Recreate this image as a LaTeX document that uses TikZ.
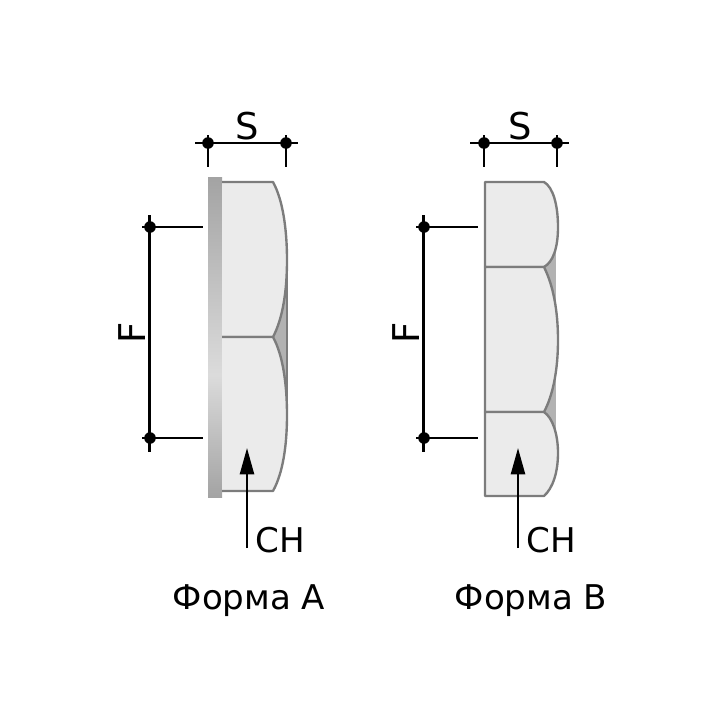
\documentclass[tikz,border=0pt]{standalone}
\usepackage{fontspec}
\setmainfont{DejaVu Sans}
\usetikzlibrary{arrows.meta}
\definecolor{nutfill}{HTML}{EBEBEB}
\definecolor{nutline}{HTML}{7C7C7C}
\definecolor{nutback}{HTML}{B2B2B2}
\tikzset{
  nutface/.style={draw=nutline,fill=nutfill,line width=1.35pt,line join=round},
  dimline/.style={draw=black,line width=1.3pt},
  dimdot/.style={circle,fill=black,inner sep=0pt,minimum size=6.6pt},
  label/.style={font=\fontsize{19.4}{21}\selectfont,inner sep=0pt},
  biglabel/.style={font=\fontsize{21}{23}\selectfont,inner sep=0pt},
  pointer/.style={dimline,-{Triangle[width=8pt,length=15pt]}}
}
\begin{document}
\begin{tikzpicture}[x=0.02cm,y=-0.02cm]
\useasboundingbox (0,0) rectangle (724,724);
% form A
\fill[nutback] (273,260) rectangle (287,415);
\shade[top color=black!36,bottom color=black!14] (208,177) rectangle (222,375);
\shade[top color=black!14,bottom color=black!36] (208,375) rectangle (222,497);
\draw[nutface] (222,182) -- (273,182) .. controls (283,200) and (287,230) .. (287,260) .. controls (287,290) and (283,318) .. (273,337) -- (222,337);
\draw[nutface] (222,337) -- (273,337) .. controls (283,355) and (287,385) .. (287,415) .. controls (287,445) and (283,473) .. (273,491) -- (222,491);
\draw[draw=nutline,line width=1.35pt] (287,260) -- (287,415);
% form B
\fill[nutback] (540,240) rectangle (556,440);
\draw[nutface] (485,182) -- (544,182) .. controls (553,187) and (558,205) .. (558,227) .. controls (558,248) and (553,262) .. (544,267) -- (485,267) -- cycle;
\draw[nutface] (485,267) -- (544,267) .. controls (553,285) and (558,310) .. (558,340) .. controls (558,370) and (553,395) .. (544,412) -- (485,412) -- cycle;
\draw[nutface] (485,412) -- (544,412) .. controls (553,418) and (558,435) .. (558,453) .. controls (558,472) and (553,488) .. (544,496) -- (485,496) -- cycle;
% dimensions A
\node[dimdot] (sa1) at (208,143) {};
\node[dimdot] (sa2) at (286,143) {};
\coordinate (sa1l) at (195,143);
\coordinate (sa2r) at (298,143);
\coordinate (sa1t) at (208,135);
\coordinate (sa1b) at (208,167);
\coordinate (sa2t) at (286,135);
\coordinate (sa2b) at (286,167);
\draw[dimline] (sa1l) -- (sa2r);
\draw[dimline] (sa1t) -- (sa1b);
\draw[dimline] (sa2t) -- (sa2b);
\node[dimdot] (fa1) at (150,227) {};
\node[dimdot] (fa2) at (150,438) {};
\coordinate (fa1l) at (142,227);
\coordinate (fa1r) at (203,227);
\coordinate (fa2l) at (142,438);
\coordinate (fa2r) at (203,438);
\coordinate (fa1t) at (149.5,215);
\coordinate (fa2b) at (149.5,452);
\draw[dimline] (fa1l) -- (fa1r);
\draw[dimline] (fa2l) -- (fa2r);
\draw[dimline] (fa1t) -- (fa2b);
\coordinate (cha1) at (247,548);
\coordinate (cha2) at (247,448);
\draw[pointer] (cha1) -- (cha2);
\node[biglabel] (sa) at (247.5,126) {S};
\node[biglabel,rotate=90] (fa) at (132,333) {F};
\node[label] (cha) at (280.5,540) {CH};
\node[label] (forma) at (249,601) {Форма A};
% dimensions B
\node[dimdot] (sb1) at (484,143) {};
\node[dimdot] (sb2) at (557,143) {};
\coordinate (sb1l) at (470,143);
\coordinate (sb2r) at (569,143);
\coordinate (sb1t) at (484,135);
\coordinate (sb1b) at (484,167);
\coordinate (sb2t) at (557,135);
\coordinate (sb2b) at (557,167);
\draw[dimline] (sb1l) -- (sb2r);
\draw[dimline] (sb1t) -- (sb1b);
\draw[dimline] (sb2t) -- (sb2b);
\node[dimdot] (fb1) at (424,227) {};
\node[dimdot] (fb2) at (424,438) {};
\coordinate (fb1l) at (416,227);
\coordinate (fb1r) at (478,227);
\coordinate (fb2l) at (416,438);
\coordinate (fb2r) at (478,438);
\coordinate (fb1t) at (423.5,215);
\coordinate (fb2b) at (423.5,452);
\draw[dimline] (fb1l) -- (fb1r);
\draw[dimline] (fb2l) -- (fb2r);
\draw[dimline] (fb1t) -- (fb2b);
\coordinate (chb1) at (518,548);
\coordinate (chb2) at (518,448);
\draw[pointer] (chb1) -- (chb2);
\node[biglabel] (sb) at (520,126) {S};
\node[biglabel,rotate=90] (fb) at (406,333) {F};
\node[label] (chb) at (551.5,540) {CH};
\node[label] (formb) at (531,601) {Форма B};
\end{tikzpicture}
\end{document}
